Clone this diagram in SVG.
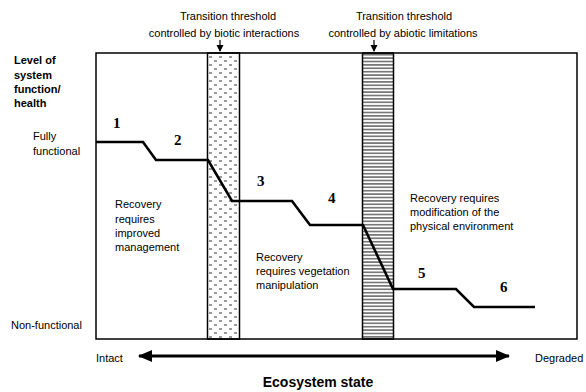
<svg xmlns="http://www.w3.org/2000/svg" width="586" height="392" viewBox="0 0 586 392">
<style>
.t{font-family:"Liberation Sans",Arial,sans-serif;font-size:11px;fill:#000}
.b{font-family:"Liberation Sans",Arial,sans-serif;font-size:11px;font-weight:bold;fill:#000}
.n{font-family:"Liberation Serif","Times New Roman",serif;font-size:15px;font-weight:bold;fill:#000}
.box{fill:none;stroke:#000;stroke-width:1.5}
.curve{fill:none;stroke:#000;stroke-width:2.6;stroke-linejoin:miter}
</style>
<defs>
<pattern id="dash" width="10" height="8" patternUnits="userSpaceOnUse" x="208" y="55">
<rect width="10" height="8" fill="#fff"/>
<line x1="1" y1="2" x2="4" y2="2" stroke="#000" stroke-width="0.8"/>
<line x1="6" y1="6" x2="9" y2="6" stroke="#000" stroke-width="0.8"/>
</pattern>
<pattern id="hline" width="6" height="3.4" patternUnits="userSpaceOnUse" x="362" y="53">
<rect width="6" height="3.4" fill="#fff"/>
<line x1="0" y1="1.7" x2="6" y2="1.7" stroke="#000" stroke-width="0.9"/>
</pattern>
<marker id="ah" viewBox="0 0 14 12" refX="13" refY="6" markerWidth="14" markerHeight="12" markerUnits="userSpaceOnUse" orient="auto-start-reverse">
<path d="M0,0 L14,6 L0,12 Z" fill="#000"/>
</marker>
</defs>

<g id="bands">
<rect x="207.5" y="53" width="32" height="286" fill="url(#dash)" stroke="#000" stroke-width="1.5"/>
<rect x="362.5" y="53" width="31" height="286" fill="url(#hline)" stroke="#000" stroke-width="1.5"/>
</g>
<g id="frame">
<rect class="box" x="96" y="53" width="481" height="286"/>
</g>

<g id="axis-labels">
<text class="b"><tspan x="14" y="64">Level of</tspan><tspan x="14" y="79">system</tspan><tspan x="14" y="93">function/</tspan><tspan x="14" y="107">health</tspan></text>
<text class="t"><tspan x="33" y="140">Fully</tspan><tspan x="33" y="155">functional</tspan></text>
<text class="t" x="11" y="329">Non-functional</text>
<text class="t" x="96" y="362">Intact</text>
<text class="t" x="535" y="362">Degraded</text>
<text class="b" x="318" y="387" text-anchor="middle" style="font-size:14px">Ecosystem state</text>
</g>

<g id="thresholds">
<text class="t" text-anchor="middle"><tspan x="228" y="20">Transition threshold</tspan><tspan x="224" y="37">controlled by biotic interactions</tspan></text>
<text class="t" text-anchor="middle"><tspan x="404" y="20">Transition threshold</tspan><tspan x="403" y="37">controlled by abiotic limitations</tspan></text>
</g>

<g id="regions">
<text class="t"><tspan x="115" y="208">Recovery</tspan><tspan x="115" y="223">requires</tspan><tspan x="115" y="237">improved</tspan><tspan x="115" y="251">management</tspan></text>
<text class="t"><tspan x="256" y="261">Recovery</tspan><tspan x="256" y="275">requires vegetation</tspan><tspan x="256" y="289">manipulation</tspan></text>
<text class="t"><tspan x="410" y="202">Recovery requires</tspan><tspan x="410" y="216">modification of the</tspan><tspan x="410" y="230">physical environment</tspan></text>
</g>

<g id="stages">
<text class="n" x="113" y="128">1</text>
<text class="n" x="174" y="145">2</text>
<text class="n" x="257" y="186">3</text>
<text class="n" x="328" y="203">4</text>
<text class="n" x="418" y="278">5</text>
<text class="n" x="500" y="292">6</text>
</g>

<g id="connectors">
<path class="curve" d="M96,142 L143,142 L156,160 L208,160 L232,201 L292,201 L310,225 L363,225 L393,289 L456,289 L474,307 L535,307"/>
<line x1="220" y1="40" x2="220" y2="51" stroke="#000" stroke-width="1.2"/>
<path d="M216.5,45 L220,52 L223.5,45 Z" fill="#000"/>
<line x1="374" y1="40" x2="374" y2="51" stroke="#000" stroke-width="1.2"/>
<path d="M370.5,45 L374,52 L377.5,45 Z" fill="#000"/>
<line x1="139" y1="356" x2="509" y2="356" stroke="#000" stroke-width="3" marker-start="url(#ah)" marker-end="url(#ah)"/>
</g>
</svg>
